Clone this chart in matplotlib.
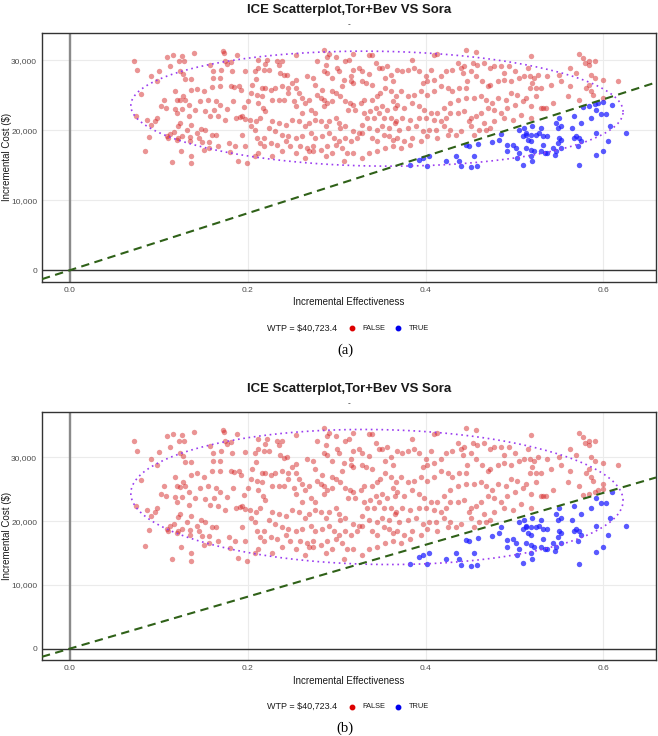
import numpy as np
import matplotlib
matplotlib.use("Agg")
import matplotlib.pyplot as plt
from matplotlib.lines import Line2D
from matplotlib.ticker import FuncFormatter

plt.rcParams['font.family'] = ['Liberation Sans', 'DejaVu Sans']

# ---------------- data ----------------
title = "ICE Scatterplot,Tor+Bev VS Sora"
subtitle = "-"
wtp = 40723.4
legend_labels = ["FALSE", "TRUE"]
x_ticks = [0.0, 0.2, 0.4, 0.6]
y_ticks = [0, 10000, 20000, 30000]
captions = ["(a)", "(b)"]

eff = [
    0.072,0.076,0.109,0.116,0.126,0.123,0.129,0.140,0.113,0.100,
    0.092,0.098,0.124,0.128,0.137,0.130,0.080,0.075,0.087,0.091,
    0.098,0.096,0.089,0.085,0.106,0.103,0.108,0.118,0.121,0.124,
    0.128,0.130,0.119,0.126,0.134,0.136,0.143,0.151,0.160,0.169,
    0.147,0.156,0.164,0.134,0.141,0.152,0.158,0.162,0.169,0.167,
    0.175,0.177,0.184,0.181,0.185,0.190,0.193,0.187,0.191,0.194,
    0.197,0.196,0.201,0.204,0.211,0.212,0.217,0.216,0.205,0.208,
    0.212,0.209,0.212,0.220,0.197,0.182,0.175,0.170,0.161,0.158,
    0.161,0.169,0.177,0.181,0.188,0.174,0.172,0.121,0.124,0.122,
    0.117,0.113,0.109,0.111,0.122,0.126,0.132,0.135,0.137,0.143,
    0.148,0.152,0.160,0.164,0.157,0.149,0.145,0.135,0.121,0.125,
    0.136,0.136,0.115,0.151,0.157,0.167,0.179,0.186,0.197,0.194,
    0.204,0.208,0.203,0.210,0.214,0.211,0.214,0.219,0.212,0.208,
    0.199,0.189,0.180,
    0.255,0.286,0.291,0.299,0.289,0.318,0.336,0.340,0.278,0.288,
    0.301,0.310,0.314,0.233,0.235,0.239,0.222,0.218,0.224,0.237,
    0.241,0.244,0.254,0.250,0.267,0.273,0.276,0.286,0.289,0.295,
    0.303,0.308,0.316,0.319,0.325,0.329,0.336,0.344,0.348,0.351,
    0.357,0.361,0.364,0.355,0.333,0.329,0.340,0.319,0.316,0.306,
    0.299,0.295,0.284,0.282,0.286,0.278,0.269,0.261,0.265,0.258,
    0.254,0.246,0.239,0.231,0.226,0.220,0.216,0.228,0.235,0.241,
    0.246,0.252,0.254,0.261,0.271,0.276,0.286,0.289,0.295,0.304,
    0.310,0.315,0.318,0.313,0.321,0.327,0.331,0.340,0.346,0.349,
    0.355,0.361,0.363,0.366,0.357,0.351,0.344,0.338,0.331,0.334,
    0.342,0.348,0.353,0.361,0.366,0.359,0.351,0.346,0.336,0.329,
    0.325,0.319,0.310,0.304,0.303,0.299,0.291,0.288,0.282,0.276,
    0.269,0.265,0.258,0.250,0.243,0.235,0.228,0.220,0.224,0.231,
    0.239,0.246,0.254,0.261,0.271,0.276,0.284,0.291,0.297,0.303,
    0.310,0.316,0.323,0.329,0.340,0.346,0.353,0.359,0.364,0.218,
    0.226,0.233,0.243,0.248,0.259,0.267,0.273,0.274,0.269,0.282,
    0.289,0.299,0.306,0.312,0.319,0.329,0.336,0.346,0.355,0.364,
    0.228,0.239,0.254,0.265,0.288,0.295,0.308,
    0.410,0.413,0.445,0.457,0.385,0.380,0.374,0.368,0.387,0.393,
    0.400,0.402,0.397,0.406,0.410,0.417,0.423,0.430,0.436,0.440,
    0.443,0.442,0.453,0.458,0.466,0.472,0.477,0.485,0.488,0.494,
    0.500,0.505,0.511,0.496,0.488,0.481,0.473,0.470,0.464,0.457,
    0.451,0.447,0.445,0.438,0.430,0.425,0.417,0.410,0.402,0.395,
    0.387,0.380,0.372,0.367,0.368,0.376,0.385,0.393,0.398,0.406,
    0.413,0.421,0.428,0.436,0.445,0.455,0.462,0.468,0.475,0.481,
    0.490,0.496,0.503,0.509,0.500,0.492,0.485,0.477,0.470,0.462,
    0.457,0.451,0.443,0.436,0.428,0.423,0.417,0.410,0.400,0.393,
    0.383,0.374,0.367,0.370,0.380,0.389,0.397,0.404,0.412,0.421,
    0.428,0.434,0.440,0.451,0.460,0.468,0.472,0.455,0.368,0.376,
    0.385,0.395,0.402,0.413,0.425,0.372,0.382,0.449,0.466,0.477,
    0.488,0.498,0.507,
    0.382,0.397,0.393,0.404,0.423,0.434,0.438,0.440,0.451,0.445,
    0.449,0.459,0.475,0.483,0.485,0.492,0.498,0.492,0.502,0.503,
    0.509,0.505,0.509,0.515,0.505,0.511,0.513,0.458,0.455,0.402,
    0.519,0.515,0.517,0.522,0.520,0.526,0.524,0.517,0.530,0.537,
    0.541,0.550,0.552,0.562,0.560,0.573,0.577,0.579,0.584,0.590,
    0.584,0.562,0.569,0.586,0.590,0.599,0.580,0.584,0.586,0.588,
    0.573,0.599,0.616,0.543,0.532,0.535,0.519,0.519,0.524,0.513,
    0.530,
    0.520,0.530,0.528,0.519,0.513,0.524,0.532,0.537,0.550,0.549,
    0.552,0.547,0.567,0.575,0.577,0.584,0.590,0.594,0.599,0.592,
    0.586,0.597,0.603,0.610,0.565,0.567,0.569,0.573,0.575,0.550,
    0.549,0.552,0.547,0.543,0.532,0.530,0.519,0.513,0.519,0.522,
    0.534,0.537,0.545,0.519,0.520,0.571,0.592,0.607,0.605,0.599,
    0.592,0.625,0.573,0.552,
]

cost_a = [
    29850,28660,30470,30810,30660,29850,29850,31000,29140,28520,
    27710,27000,28430,28090,27330,27330,25190,22000,21520,20720,
    21760,21290,19050,17100,24380,23430,23190,25570,24380,24290,
    24860,24380,23100,23050,23670,25810,25950,25570,26190,26280,
    24140,24380,24240,22100,22950,22810,22100,22950,23670,22000,
    21520,23100,24240,26280,26140,26280,25810,21760,21860,22000,
    21670,23290,24140,25330,25000,23900,23190,26050,26520,28430,
    28900,27380,30090,29470,28520,28430,29850,28660,28430,29280,
    27470,27470,29470,29760,30810,31040,31280,22480,21050,20670,
    19760,19520,19240,18910,18910,19240,20100,19050,20810,19620,
    20240,20100,19380,19380,18340,18290,18910,18430,18670,17000,
    16290,15340,15530,17240,17480,17720,18190,17720,17720,19380,
    20570,20100,21520,21290,21760,18910,18190,17720,16760,16290,
    15340,15670,16910,
    30710,31430,30950,30470,30470,30950,30810,30810,29850,29380,
    28900,29850,30090,29850,29380,29850,30090,28660,28660,28190,
    27860,27950,27140,26760,27710,27470,26520,28430,28190,27470,
    28430,27240,27710,28660,28900,28430,28050,29620,28900,28900,
    29140,27950,27000,27470,26760,27000,26520,26760,27000,26280,
    25330,25570,25810,24620,24380,25090,24380,24620,23900,25330,
    26050,26050,26280,26050,25810,26050,24860,24380,24380,24380,
    25330,24140,23430,22480,22950,22480,23430,23900,24140,24860,
    24140,23900,23670,22950,22950,23900,24380,24380,24860,25330,
    26050,25570,24140,23190,22950,23430,23190,22710,22480,21760,
    21760,22480,21760,21760,21050,20330,20570,20100,20330,20810,
    19620,19860,20570,20330,21050,21760,21290,20570,21290,21520,
    21050,20570,21290,21520,20810,21050,21290,22710,20330,19860,
    19380,19140,18910,19140,19620,18910,19140,19620,18910,18430,
    18910,18430,18910,19620,18910,18430,19380,19140,18670,18910,
    18190,17950,18430,17720,17720,17480,17720,17000,17000,17240,
    17720,17950,17480,16760,16760,16050,16760,17000,17480,17720,
    16290,17000,16760,16050,16290,16760,15570,
    30810,30950,31430,31190,30090,28660,28430,28660,28900,28430,
    27710,27000,26760,28660,27240,27710,28430,28660,29620,28900,
    29140,28190,29620,29380,29620,28900,29140,29140,28190,29140,
    28430,27470,27710,27000,27240,27000,26520,26280,27000,27710,
    28430,27000,26050,26050,25570,26050,26280,25570,25090,25570,
    25090,24860,25570,24860,23670,23190,23900,23430,22950,22480,
    22480,23190,23900,24380,24620,24620,24860,24380,23900,24620,
    24380,25330,25090,24140,23670,23190,22480,22950,23190,22480,
    22000,21760,22710,22480,22480,21760,21290,21520,21760,21760,
    21520,21760,21290,20100,20330,20570,19860,20100,20100,20570,
    20100,19380,19860,20570,20100,20100,20330,19380,18910,18430,
    18910,18430,19140,18910,19380,17480,17950,21290,21050,21290,
    21760,21520,22240,
    15000,16000,15810,16300,15570,16290,15570,14860,14760,17860,
    17720,18100,18340,18670,19400,17860,17950,17000,17480,16050,
    15100,16760,19140,18670,20100,20330,19620,14860,16290,14940,
    30570,28900,27710,27470,26760,27950,26050,26050,26050,27710,
    26520,27950,27000,26280,24860,30900,30330,29620,29850,29950,
    29380,28900,28190,27950,27470,27240,26050,26520,25570,25090,
    24380,24620,27000,23900,23190,23190,23430,21760,24860,24620,
    23190,
    20570,20330,19620,19380,19380,19380,19140,19140,21760,20330,
    20570,21050,22000,21050,23300,23500,23700,23900,24100,22950,
    21760,22330,22330,23670,20330,18910,19140,18910,18430,18910,
    18190,17480,17000,17480,17950,17000,18430,17480,17240,17000,
    16760,16760,16530,16290,15570,17720,19620,20570,18430,17000,
    16430,19620,15000,18670,
]

cost_b = [
    32500,30960,33290,33730,33540,32500,32500,33980,31580,30780,
    29740,28820,30660,30230,29250,29250,26490,22380,21760,20730,
    22070,21460,18570,16060,25440,24220,23910,26980,25440,25330,
    26060,25440,23790,23730,24530,27290,27470,26980,27780,27890,
    25130,25440,25260,22510,23600,23420,22510,23600,24530,22380,
    21760,23790,25260,27890,27710,27890,27290,22070,22190,22380,
    21950,24040,25130,26670,26240,24830,23910,27600,28200,30660,
    31270,29310,32800,32010,30780,30660,32500,30960,30660,31760,
    29430,29430,32010,32380,33730,34030,34340,23000,21150,20660,
    19490,19180,18820,18390,18390,18820,19930,18570,20840,19310,
    20110,19930,19000,19000,17660,17590,18390,17770,18080,15930,
    15020,13790,14040,16240,16550,16860,17470,16860,16860,19000,
    20530,19930,21760,21460,22070,18390,17470,16860,15620,15020,
    13790,14220,15820,
    33460,34530,33770,33290,33290,33770,33730,33730,32500,31890,
    31270,32500,32800,32500,31890,32500,32800,30960,30960,30360,
    29930,30050,29000,28510,29740,29430,28200,30660,30360,29430,
    30660,29130,29740,30960,31270,30660,30170,32200,31270,31270,
    31580,30050,28820,29430,28510,28820,28200,28510,28820,27890,
    26670,26980,27290,25750,25440,26360,25440,25750,24830,26670,
    27600,27600,27890,27600,27290,27600,26060,25440,25440,25440,
    26670,25130,24220,23000,23600,23000,24220,24830,25130,26060,
    25130,24830,24530,23600,23600,24830,25440,25440,26060,26670,
    27600,26980,25130,23910,23600,24220,23910,23290,23000,22070,
    22070,23000,22070,22070,21150,20220,20530,19930,20220,20840,
    19310,19620,20530,20220,21150,22070,21460,20530,21460,21760,
    21150,20530,21460,21760,20840,21150,21460,23290,20220,19620,
    19000,18690,18390,18690,19310,18390,18690,19310,18390,17770,
    18390,17770,18390,19310,18390,17770,19000,18690,18080,18390,
    17470,17160,17770,16860,16860,16550,16860,15930,15930,16240,
    16860,17160,16550,15620,15620,14710,15620,15930,16550,16860,
    15020,15930,15620,14710,15020,15620,14090,
    33730,33770,34530,34220,32800,30960,30660,30960,31270,30660,
    29740,28820,28510,30960,29130,29740,30660,30960,32200,31270,
    31580,30360,32200,31890,32200,31270,31580,31580,30360,31580,
    30660,29430,29740,28820,29130,28820,28200,27890,28820,29740,
    30660,28820,27600,27600,26980,27600,27890,26980,26360,26980,
    26360,26060,26980,26060,24530,23910,24830,24220,23600,23000,
    23000,23910,24830,25440,25750,25750,26060,25440,24830,25750,
    25440,26670,26360,25130,24530,23910,23000,23600,23910,23000,
    22380,22070,23290,23000,23000,22070,21460,21760,22070,22070,
    21760,22070,21460,19930,20220,20530,19620,19930,19930,20530,
    19930,19000,19620,20530,19930,19930,20220,19000,18390,17770,
    18390,17770,18690,18390,19000,16550,17160,21460,21150,21460,
    22070,21760,22690,
    13350,14640,14400,15030,14090,15020,14090,13170,13040,17040,
    16860,17350,17660,18080,19030,17040,17160,15930,16550,14710,
    13480,15620,18690,18080,19930,20220,19310,13170,15020,13280,
    33420,31270,29740,29430,28510,30050,27600,27600,27600,29740,
    28200,30050,28820,27890,26060,33850,33110,32200,32500,32620,
    31890,31270,30360,30050,29430,29130,27600,28200,26980,26360,
    25440,25750,28820,24830,23910,23910,24220,22070,26060,25750,
    23910,
    20530,20220,19310,19000,19000,19000,18690,18690,22070,20220,
    20530,21150,22380,21150,24050,24310,24570,24830,25080,23600,
    22070,22800,22800,24530,20220,18390,18690,18390,17770,18390,
    17470,16550,15930,16550,17160,15930,17770,16550,16240,15930,
    15620,15620,15320,15020,14090,16860,19310,20530,17770,15930,
    15200,19310,13350,18080,
]

# ---------------- styling ----------------
W, H = 658, 736
RED = '#d42020'
BLUE = '#1a1aff'
GREEN = '#2f6118'
PURPLE = '#9a3cf0'
ELLIPSE_SCALE = 1.9

def fx(px):
    return px / W

def fy(py):
    return 1 - py / H

fig = plt.figure(figsize=(W / 100, H / 100), dpi=100)

def data_ellipse(x, y, r, n=240):
    x = np.asarray(x, float)
    y = np.asarray(y, float)
    cov = np.cov(x, y)
    L = np.linalg.cholesky(cov)
    t = np.linspace(0, 2 * np.pi, n)
    circ = np.vstack([np.cos(t), np.sin(t)])
    pts = np.array([[x.mean()], [y.mean()]]) + r * (L @ circ)
    return pts[0], pts[1]

def panel(rect, cost, ylim, top_px, caption):
    ax = fig.add_axes(rect)
    e = np.asarray(eff)
    c = np.asarray(cost)
    ce = c < wtp * e
    ax.set_xlim(-0.031, 0.659)
    ax.set_ylim(*ylim)
    ax.grid(True, color='#ebebeb', lw=0.8, zorder=0)
    ax.set_axisbelow(True)
    ax.axvline(0, color='#8a8a8a', lw=1.7, zorder=1)
    ax.axhline(0, color='#333333', lw=1.0, zorder=1)
    ax.scatter(e[~ce], c[~ce], s=15, color=RED, alpha=0.48, linewidths=0, zorder=2)
    ax.scatter(e[ce], c[ce], s=15, color=BLUE, alpha=0.72, linewidths=0, zorder=3)
    ex, ey = data_ellipse(eff, cost, ELLIPSE_SCALE)
    ax.plot(ex, ey, color=PURPLE, lw=1.2, linestyle=(0, (1, 2.2)), zorder=4)
    xl = np.array(ax.get_xlim())
    ax.plot(xl, wtp * xl, color=GREEN, lw=1.5, linestyle=(0, (4, 2.6)), zorder=5)
    ax.set_xlim(-0.031, 0.659)
    ax.set_xticks(x_ticks)
    ax.set_xticklabels([f"{v:.1f}" for v in x_ticks])
    ax.set_yticks(y_ticks)
    ax.yaxis.set_major_formatter(FuncFormatter(lambda v, p: f"{int(v):,}"))
    ax.tick_params(length=0, labelsize=6, labelcolor='#4d4d4d', pad=3.5)
    for s in ax.spines.values():
        s.set_color('#333333')
        s.set_linewidth(1.0)
    # titles
    fig.text(fx(349), fy(top_px - 23), title, ha='center', va='center',
             fontsize=9.5, fontweight='bold', color='#1a1a1a')
    fig.text(fx(349), fy(top_px - 8), subtitle, ha='center', va='center',
             fontsize=6, color='#1a1a1a')
    fig.text(fx(349), fy(top_px + 269), "Incremental Effectiveness", ha='center',
             va='center', fontsize=7, color='#1a1a1a')
    fig.text(fx(7.5), fy(top_px + 124), "Incremental Cost ($)", ha='center',
             va='center', rotation=90, fontsize=7, color='#1a1a1a')
    ly = fy(top_px + 295)
    fig.text(fx(267), ly, f"WTP = ${wtp:,.1f}", ha='left', va='center',
             fontsize=6.5, color='#1a1a1a')
    fig.add_artist(Line2D([fx(352)], [ly], marker='o', ms=3.2, color='#dd0000',
                          transform=fig.transFigure))
    fig.text(fx(362), ly, legend_labels[0], ha='left', va='center', fontsize=5.3,
             color='#1a1a1a')
    fig.add_artist(Line2D([fx(398)], [ly], marker='o', ms=3.2, color='#0000ee',
                          transform=fig.transFigure))
    fig.text(fx(409), ly, legend_labels[1], ha='left', va='center', fontsize=5.3,
             color='#1a1a1a')
    fig.text(fx(345), fy(top_px + 317), caption, ha='center', va='center',
             fontsize=10.5, family=['Liberation Serif', 'DejaVu Serif'], color='black')
    return ax

panel([fx(42), fy(281.7), 614 / W, 248.7 / H], cost_a, (-1630, 33900), 33, captions[0])
panel([fx(42), fy(660), 614 / W, 248.3 / H], cost_b, (-1770, 37150), 411.7, captions[1])

fig.savefig("out.png", dpi=100, facecolor='white')
